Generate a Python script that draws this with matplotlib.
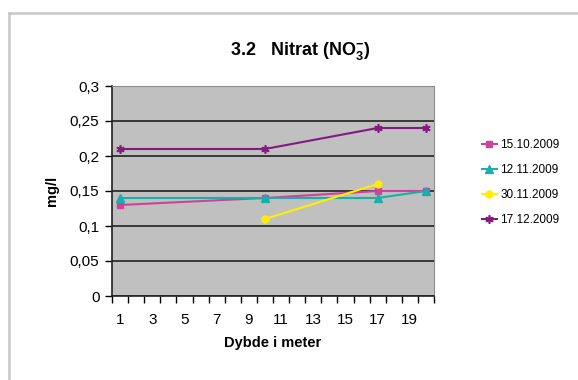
import numpy as np
import matplotlib
matplotlib.use('Agg')
import matplotlib.pyplot as plt
from matplotlib.lines import Line2D

plt.rcParams['font.family'] = ['Liberation Sans', 'DejaVu Sans']
plt.rcParams['mathtext.fontset'] = 'custom'
plt.rcParams['mathtext.rm'] = 'Liberation Sans'
plt.rcParams['mathtext.bf'] = 'Liberation Sans:bold'

# Data: depth (m) and nitrate (mg/l) per sampling date
dybde = [1, 10, 17, 20]
dybde_3011 = [10, 17]
v_1510 = [0.13, 0.14, 0.15, 0.15]
v_1211 = [0.14, 0.14, 0.14, 0.15]
v_3011 = [0.11, 0.16]
v_1712 = [0.21, 0.21, 0.24, 0.24]
datoer = ['15.10.2009', '12.11.2009', '30.11.2009', '17.12.2009']
x_labels = [str(i) for i in range(1, 21, 2)]

fig = plt.figure(figsize=(5.78, 3.80), dpi=100)

# outer chart frame (top and left edges visible)
fig.add_artist(Line2D([8.5 / 578, 8.5 / 578], [0, 1 - 12.5 / 380], color='#c8c8c8', lw=1.8))
fig.add_artist(Line2D([8.5 / 578, 1], [1 - 12.5 / 380, 1 - 12.5 / 380], color='#c8c8c8', lw=1.8))

ax = fig.add_axes([112 / 578, 84 / 380, 322 / 578, 210 / 380])
ax.set_facecolor('#c0c0c0')

ax.plot(dybde, v_1510, color='#cc4499', lw=1.5, marker='s', ms=5, label=datoer[0], zorder=3)
ax.plot(dybde, v_1211, color='#1aafaa', lw=1.5, marker='^', ms=5.5, label=datoer[1], zorder=3)
ax.plot(dybde_3011, v_3011, color='#ffee00', lw=1.5, marker='o', ms=5, label=datoer[2], zorder=3)
ax.plot(dybde, v_1712, color='#851a7e', lw=1.5, marker=(6, 2, 0), ms=6, mew=1.2, label=datoer[3], zorder=3)

ax.set_xlim(0.5, 20.5)
ax.set_ylim(0, 0.3)
yt = np.arange(0, 0.301, 0.05)
ax.set_yticks(yt)
ax.set_yticklabels(['0', '0,05', '0,1', '0,15', '0,2', '0,25', '0,3'], fontsize=11)
ax.yaxis.grid(True, color='#222222', lw=1.2)
ax.set_axisbelow(True)

ax.set_xticks(np.arange(0.5, 21, 1))
ax.set_xticklabels([])
ax.set_xticks(range(1, 21, 2), minor=True)
ax.set_xticklabels(x_labels, minor=True, fontsize=11)
ax.tick_params(axis='x', which='major', length=5, width=1, direction='out')
ax.tick_params(axis='x', which='minor', length=0, pad=12)
ax.tick_params(axis='y', length=5, width=1, direction='out', pad=4)

for s in ['top', 'right']:
    ax.spines[s].set_color('#8c8c8c')
    ax.spines[s].set_linewidth(0.8)
for s in ['left', 'bottom']:
    ax.spines[s].set_color('#222222')
    ax.spines[s].set_linewidth(1.2)

ax.set_ylabel('mg/l', fontsize=10.5, fontweight='bold', labelpad=8)
ax.set_xlabel('Dybde i meter', fontsize=10.5, fontweight='bold', labelpad=7)

fig.text(300 / 578, 1 - 51 / 380, r'3.2   Nitrat (NO$_\mathbf{3}^\mathbf{-}$)',
         fontsize=13, fontweight='bold', ha='center', va='center')

ax.legend(loc='center left', bbox_to_anchor=(1.115, 0.54), frameon=False,
          fontsize=8.5, handlelength=1.3, labelspacing=1.1, handletextpad=0.3)

fig.savefig('out.png', dpi=100)
